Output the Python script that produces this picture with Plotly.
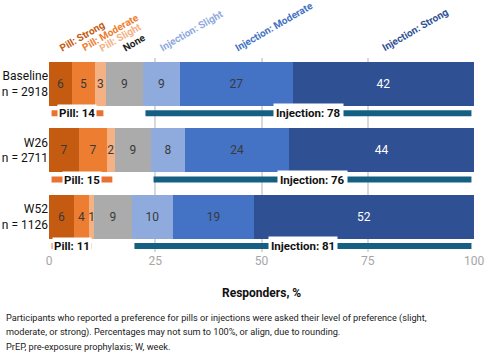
import plotly.graph_objects as go

# ---------------- data ----------------
rows = ["Baseline<br>n = 2918", "W26<br>n = 2711", "W52<br>n = 1126"]
categories = ["Pill: Strong", "Pill: Moderate", "Pill: Slight", "None",
              "Injection: Slight", "Injection: Moderate", "Injection: Strong"]
# estimated (unrounded) shares, %, per row
baseline_vals = [5.4, 5.4, 2.6, 8.7, 8.7, 26.6, 42.6]
w26_vals = [7.1, 6.5, 1.9, 8.5, 8.0, 24.5, 43.5]
w52_vals = [5.9, 3.5, 1.2, 8.9, 9.7, 19.0, 51.8]
# printed (rounded) labels
baseline_labels = [6, 5, 3, 9, 9, 27, 42]
w26_labels = [7, 7, 2, 9, 8, 24, 44]
w52_labels = [6, 4, 1, 9, 10, 19, 52]
pill_totals = [14, 15, 11]
injection_totals = [78, 76, 81]
xticks = [0, 25, 50, 75, 100]
footnote_lines = [
    "Participants who reported a preference for pills or injections were asked their level of preference (slight,",
    "moderate, or strong). Percentages may not sum to 100%, or align, due to rounding.",
    "PrEP, pre-exposure prophylaxis; W, week.",
]

values = [baseline_vals, w26_vals, w52_vals]
labels = [baseline_labels, w26_labels, w52_labels]

# ---------------- styles ----------------
seg_colors = ["#C55A11", "#ED7D31", "#F4B183", "#ABABAB", "#8FAADC", "#4472C4", "#2F5093"]
head_colors = ["#C55A11", "#ED7D31", "#F4B183", "#222222", "#8FAADC", "#4472C4", "#2F5093"]
txt_colors = ["#3A3A3A"] * 6 + ["white"]
PILL_C = "#E97132"
INJ_C = "#156082"
FONT = "Roboto"
BAR_W = 0.66
SUM_OFF = 0.44
INSET = 0.6
ML, MR, MT, MB = 49, 13, 58, 111
W, H = 487, 363
PW, PH = W - ML - MR, H - MT - MB

def px_to_paper_x(px):
    return (px - ML) / PW

def px_to_paper_y(py):
    return (H - MB - py) / PH

ypos = list(range(len(rows)))
fig = go.Figure()

for j, cat in enumerate(categories):
    fig.add_trace(go.Bar(
        x=[v[j] for v in values], y=ypos, orientation="h", width=BAR_W,
        marker=dict(color=seg_colors[j], line=dict(width=0)),
        text=[str(l[j]) for l in labels], textposition="inside",
        insidetextanchor="middle",
        textfont=dict(color=txt_colors[j], size=12, family=FONT),
        name=cat, showlegend=False, hoverinfo="skip"))

annotations = []
for i, row in enumerate(values):
    pill_end = sum(row[:3])
    inj_start = 100 - sum(row[4:])
    ys = i + SUM_OFF
    fig.add_trace(go.Scatter(x=[INSET, pill_end - INSET], y=[ys, ys], mode="lines",
                             line=dict(color=PILL_C, width=6), showlegend=False, hoverinfo="skip"))
    fig.add_trace(go.Scatter(x=[inj_start + INSET, 100 - INSET], y=[ys, ys], mode="lines",
                             line=dict(color=INJ_C, width=6), showlegend=False, hoverinfo="skip"))
    annotations.append(dict(x=pill_end / 2, y=ys, xref="x", yref="y",
                            text=f"<b>Pill: {pill_totals[i]}</b>", showarrow=False,
                            bgcolor="white", borderpad=1,
                            font=dict(size=11.5, color="#111111", family=FONT)))
    annotations.append(dict(x=(inj_start + 100) / 2, y=ys, xref="x", yref="y",
                            text=f"<b>Injection: {injection_totals[i]}</b>", showarrow=False,
                            bgcolor="white", borderpad=2,
                            font=dict(size=11.5, color="#111111", family=FONT)))

# rotated category headers above baseline segments
cum = 0
for j, cat in enumerate(categories):
    center = cum + values[0][j] / 2
    cum += values[0][j]
    annotations.append(dict(x=center, y=1, xref="x", yref="paper", yshift=2, xshift=-6,
                            text=f"<b>{cat}</b>", showarrow=False, textangle=-30,
                            xanchor="left", yanchor="bottom",
                            font=dict(size=10, color=head_colors[j], family=FONT)))

annotations.append(dict(x=0.5, y=px_to_paper_y(293), xref="paper", yref="paper",
                        yanchor="middle", text="<b>Responders, %</b>", showarrow=False,
                        font=dict(size=12, color="#111111", family=FONT)))
for k, line in enumerate(footnote_lines):
    annotations.append(dict(x=px_to_paper_x(4), y=px_to_paper_y(318 + 14 * k),
                            xref="paper", yref="paper", xanchor="left", yanchor="middle",
                            align="left", showarrow=False, text=line,
                            font=dict(size=9.2, color="#222222", family=FONT)))

fig.update_layout(
    barmode="stack", width=W, height=H,
    margin=dict(l=ML, r=MR, t=MT, b=MB),
    paper_bgcolor="white", plot_bgcolor="white",
    annotations=annotations,
    uniformtext=dict(mode="show", minsize=12),
    xaxis=dict(range=[0, 100], tickvals=xticks, showgrid=True, gridcolor="#D9D9D9",
               gridwidth=2, zeroline=False, showline=False, automargin=False,
               tickfont=dict(size=12, color="#A6A6A6", family=FONT), fixedrange=True),
    yaxis=dict(range=[2.53, -0.39], tickvals=ypos, ticktext=rows, showgrid=False,
               zeroline=False, automargin=False, ticklabelstandoff=0,
               tickfont=dict(size=12, color="#111111", family=FONT),
               fixedrange=True),
)

fig.write_html("out.html")
